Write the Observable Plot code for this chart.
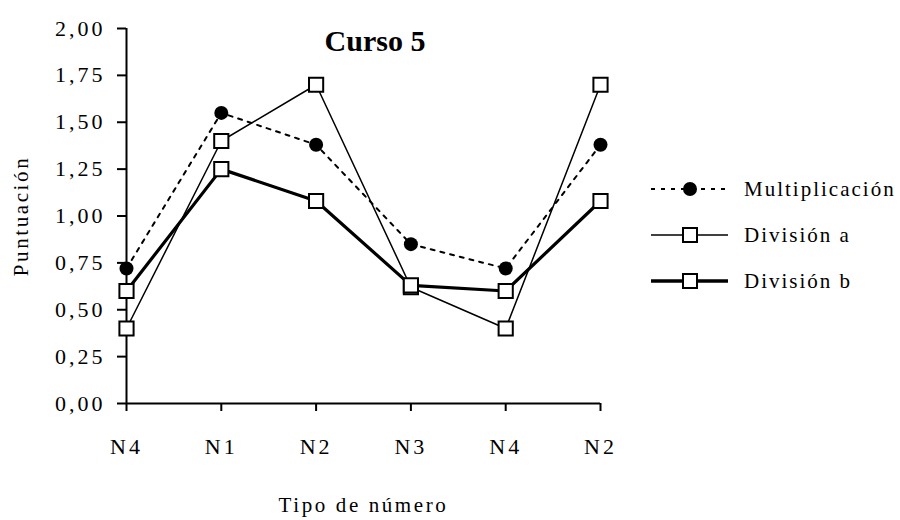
<!DOCTYPE html>
<html>
<head>
<meta charset="utf-8">
<script src="https://cdn.jsdelivr.net/npm/d3@7"></script>
<script src="https://cdn.jsdelivr.net/npm/@observablehq/plot@0.6"></script>
<style>
  html, body { margin: 0; padding: 0; background: #fff; }
  #wrap { position: relative; width: 900px; height: 520px; font-family: "Liberation Serif", serif; }
  #chart svg text { font-family: "Liberation Serif", serif !important; fill: #000; }
  #chart svg g[aria-label="y-axis tick label"] text,
  #chart svg g[aria-label="x-axis tick label"] text { font-size: 22px !important; letter-spacing: 3px; }
  #chart svg g[aria-label="y-axis label"] text,
  #chart svg g[aria-label="x-axis label"] text { font-size: 21px !important; letter-spacing: 2.6px; }
  #title { position: absolute; left: 275px; width: 200px; top: 24px; text-align: center;
           font-family: "Liberation Serif", serif; font-weight: bold; font-size: 30px; color: #000; }
  #legend { position: absolute; left: 650px; top: 166px; }
  .lg-row { display: flex; align-items: center; height: 46px; }
  .lg-row span { font-size: 21px; letter-spacing: 2px; margin-left: 14px; color: #000; }
</style>
</head>
<body>
<div id="wrap">
  <div id="chart"></div>
  <div id="title">Curso 5</div>
  <div id="legend"></div>
</div>
<script>
const categories = ["N4", "N1", "N2", "N3", "N4", "N2"];
const multiplicacion = [0.72, 1.55, 1.38, 0.85, 0.72, 1.38];
const divisionA = [0.40, 1.40, 1.70, 0.62, 0.40, 1.70];
const divisionB = [0.60, 1.25, 1.08, 0.63, 0.60, 1.08];
const yTicks = [0, 0.25, 0.5, 0.75, 1, 1.25, 1.5, 1.75, 2];
const seriesNames = ["Multiplicación", "División a", "División b"];

const idx = categories.map((_, i) => i);
const toRows = (vals) => vals.map((v, i) => ({i, v}));
const mRows = toRows(multiplicacion);
const aRows = toRows(divisionA);
const bRows = toRows(divisionB);

const chart = Plot.plot({
  width: 900, height: 520,
  marginLeft: 126, marginRight: 300, marginTop: 28, marginBottom: 117,
  style: {fontFamily: "'Liberation Serif', serif", fontSize: "21px", background: "white", color: "black"},
  x: {type: "linear", domain: [0, categories.length - 1]},
  y: {domain: [0, 2]},
  marks: [
    Plot.axisY({ticks: yTicks, tickFormat: d => d.toFixed(2).replace(".", ","), tickSize: 9, tickPadding: 12,
      strokeWidth: 2, label: "Puntuación", labelAnchor: "center", labelArrow: "none", labelOffset: 113}),
    Plot.axisX({ticks: idx, tickFormat: i => categories[i], tickSize: 8, tickPadding: 27,
      strokeWidth: 2, label: "Tipo de número", labelAnchor: "center", labelArrow: "none", labelOffset: 108}),
    Plot.ruleX([0], {strokeWidth: 2}),
    Plot.ruleY([0], {strokeWidth: 2}),
    Plot.line(mRows, {x: "i", y: "v", stroke: "black", strokeWidth: 2, strokeDasharray: "4,6"}),
    Plot.line(aRows, {x: "i", y: "v", stroke: "black", strokeWidth: 1.5}),
    Plot.line(bRows, {x: "i", y: "v", stroke: "black", strokeWidth: 3.2}),
    Plot.dot(mRows, {x: "i", y: "v", r: 7, fill: "black", stroke: "none"}),
    Plot.dot(aRows, {x: "i", y: "v", symbol: "square", r: 8, fill: "white", stroke: "black", strokeWidth: 2}),
    Plot.dot(bRows, {x: "i", y: "v", symbol: "square", r: 8, fill: "white", stroke: "black", strokeWidth: 2})
  ]
});
document.getElementById("chart").appendChild(chart);

// legend
const legendStyles = [
  {dash: "4,6", width: 2, marker: "circle"},
  {dash: null, width: 1.5, marker: "square"},
  {dash: null, width: 3.5, marker: "square"}
];
const legend = d3.select("#legend");
seriesNames.forEach((name, k) => {
  const st = legendStyles[k];
  const row = legend.append("div").attr("class", "lg-row");
  const svg = row.append("svg").attr("width", 80).attr("height", 24);
  svg.append("line").attr("x1", 1).attr("x2", 78).attr("y1", 12).attr("y2", 12)
    .attr("stroke", "black").attr("stroke-width", st.width).attr("stroke-dasharray", st.dash);
  if (st.marker === "circle") {
    svg.append("circle").attr("cx", 40).attr("cy", 12).attr("r", 7).attr("fill", "black");
  } else {
    svg.append("rect").attr("x", 33).attr("y", 5).attr("width", 14).attr("height", 14)
      .attr("fill", "white").attr("stroke", "black").attr("stroke-width", 2);
  }
  row.append("span").text(name);
});
</script>
</body>
</html>
